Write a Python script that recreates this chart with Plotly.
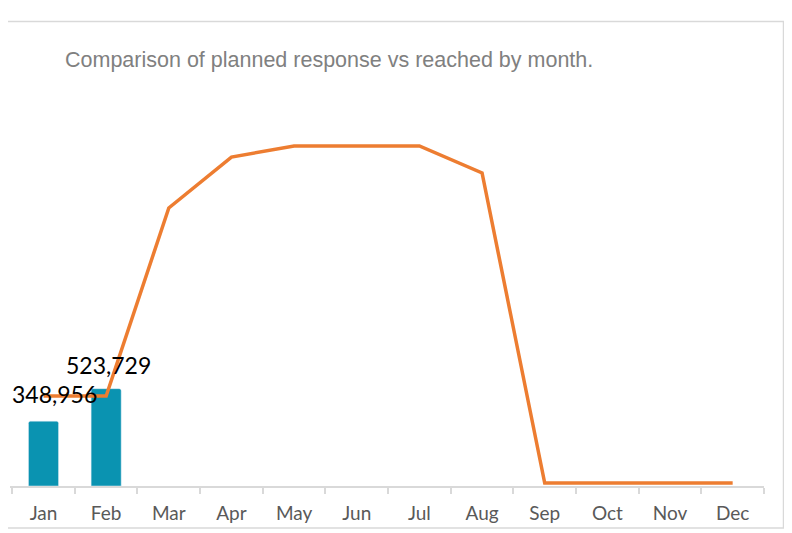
import plotly.graph_objects as go

months = ["Jan", "Feb", "Mar", "Apr", "May", "Jun", "Jul", "Aug", "Sep", "Oct", "Nov", "Dec"]
reached = [348956, 523729, None, None, None, None, None, None, None, None, None, None]
planned = [484000, 484000, 1529000, 1812000, 1874000, 1874000, 1874000, 1724000, 0, 0, 0, 0]
title_text = "Comparison of planned response vs reached by month."

# the page body has an 8px default margin; work in page pixels and offset
OFF = 8
W, H = 792 - OFF, 533 - OFF
AX_L, AX_R = 10, 764
L = AX_L - OFF
T = 100 - OFF
R = W - (AX_R - OFF)
B = H - (486 - OFF)
pw, ph = W - L - R, H - T - B

# bars: zero on the axis line
bar_per_px = 5380
# line: zero sits slightly above the axis line
line_per_px = 5560
line_range = [-3 * line_per_px, (ph - 3) * line_per_px]

def px_x(x):
    return (x - OFF - L) / pw

def px_y(y):
    return (486 - y) / ph

fig = go.Figure()
fig.add_trace(go.Bar(
    x=months, y=reached, marker=dict(color="#0A93B1", cornerradius=2),
    width=0.48, showlegend=False, hoverinfo="x+y",
))
fig.add_trace(go.Scatter(
    x=months, y=planned, mode="lines", yaxis="y2",
    line=dict(color="#ED7D31", width=3.5), showlegend=False,
))

label_xshift = [11, 2]
label_yshift = [11, 8]
for i, v in enumerate(reached):
    if v is None:
        continue
    fig.add_annotation(
        x=months[i], y=v, text=f"{v:,}", showarrow=False,
        yanchor="bottom", yshift=label_yshift[i], xshift=label_xshift[i],
        font=dict(family="Lato, Carlito, sans-serif", size=23, color="#000000"),
    )

fig.add_annotation(
    x=px_x(63), y=px_y(60), xref="paper", yref="paper", xanchor="left", yanchor="middle",
    text=title_text, showarrow=False,
    font=dict(family="Liberation Sans, Arial, sans-serif", size=21.5, color="#808080"),
)

fig.add_shape(
    type="rect", xref="paper", yref="paper",
    x0=px_x(-3), x1=px_x(783.5), y0=px_y(528), y1=px_y(21.5),
    line=dict(color="#D9D9D9", width=1.5), fillcolor="rgba(0,0,0,0)", layer="below",
)

fig.update_layout(
    width=W, height=H, margin=dict(l=L, r=R, t=T, b=B),
    paper_bgcolor="white", plot_bgcolor="white",
    xaxis=dict(
        type="category", categoryorder="array", categoryarray=months,
        showline=True, linecolor="#D9D9D9", linewidth=1.5,
        ticks="outside", tickson="boundaries", ticklen=6, tickcolor="#D9D9D9", tickwidth=1.5,
        ticklabelstandoff=9,
        showgrid=False, zeroline=False,
        tickfont=dict(family="Lato, Carlito, sans-serif", size=19, color="#595959"),
    ),
    yaxis=dict(range=[0, ph * bar_per_px], visible=False, showgrid=False, zeroline=False),
    yaxis2=dict(range=line_range, overlaying="y", visible=False, showgrid=False, zeroline=False),
)

fig.write_html("out.html")
